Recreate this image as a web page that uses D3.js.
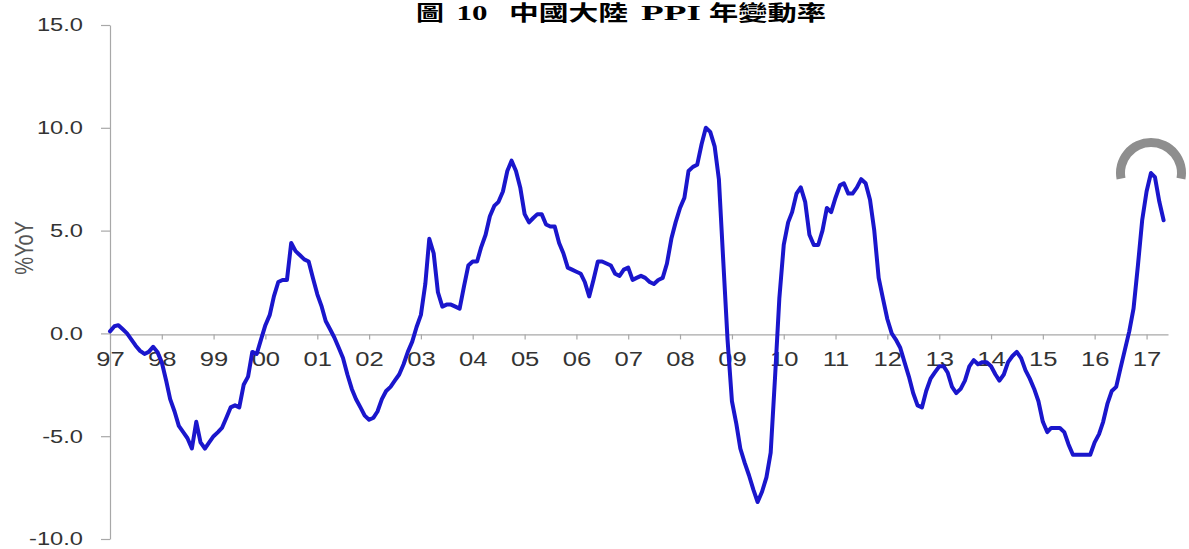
<!DOCTYPE html>
<html>
<head>
<meta charset="utf-8">
<script src="https://cdn.jsdelivr.net/npm/d3@7"></script>
<style>
  html, body { margin: 0; padding: 0; background: #fff; }
  svg { display: block; }
</style>
</head>
<body>
<svg id="chart" width="1189" height="549"></svg>
<script>
// China PPI, year-on-year change (%), monthly from Jan 1997 to May 2017
const startYear = 1997;
const ppi1997 = [0.1, 0.35, 0.4, 0.2, 0.0, -0.3, -0.6, -0.85, -1.0, -0.9, -0.65, -0.9];
const ppi1998 = [-1.4, -2.3, -3.2, -3.8, -4.5, -4.8, -5.1, -5.6, -4.3, -5.3, -5.6, -5.3];
const ppi1999 = [-5.0, -4.8, -4.6, -4.1, -3.6, -3.5, -3.6, -2.5, -2.1, -0.9, -1.0, -0.3];
const ppi2000 = [0.4, 0.9, 1.8, 2.5, 2.6, 2.6, 4.4, 4.0, 3.8, 3.6, 3.5, 2.7];
const ppi2001 = [1.9, 1.3, 0.6, 0.2, -0.2, -0.7, -1.2, -2.0, -2.7, -3.2, -3.6, -4.0];
const ppi2002 = [-4.2, -4.1, -3.8, -3.2, -2.8, -2.6, -2.3, -2.0, -1.5, -0.9, -0.4, 0.3];
const ppi2003 = [0.9, 2.4, 4.6, 3.9, 2.0, 1.3, 1.4, 1.4, 1.3, 1.2, 2.3, 3.3];
const ppi2004 = [3.5, 3.5, 4.2, 4.8, 5.7, 6.2, 6.4, 6.9, 7.9, 8.4, 7.9, 7.1];
const ppi2005 = [5.8, 5.4, 5.6, 5.8, 5.8, 5.3, 5.2, 5.2, 4.4, 3.9, 3.2, 3.1];
const ppi2006 = [3.0, 2.9, 2.5, 1.8, 2.6, 3.5, 3.5, 3.4, 3.3, 2.9, 2.8, 3.1];
const ppi2007 = [3.2, 2.6, 2.7, 2.8, 2.7, 2.5, 2.4, 2.6, 2.7, 3.4, 4.6, 5.4];
const ppi2008 = [6.1, 6.6, 7.9, 8.1, 8.2, 9.2, 10.0, 9.8, 9.1, 7.5, 3.5, -0.3];
const ppi2009 = [-3.3, -4.4, -5.6, -6.3, -6.9, -7.6, -8.2, -7.7, -7.0, -5.8, -2.1, 1.7];
const ppi2010 = [4.3, 5.4, 5.9, 6.8, 7.1, 6.4, 4.8, 4.3, 4.3, 5.0, 6.1, 5.9];
const ppi2011 = [6.6, 7.2, 7.3, 6.8, 6.8, 7.1, 7.5, 7.3, 6.5, 5.0, 2.7, 1.7];
const ppi2012 = [0.7, 0.0, -0.3, -0.7, -1.4, -2.1, -2.9, -3.5, -3.6, -2.8, -2.2, -1.9];
const ppi2013 = [-1.6, -1.6, -1.9, -2.6, -2.9, -2.7, -2.3, -1.6, -1.3, -1.5, -1.4, -1.4];
const ppi2014 = [-1.6, -2.0, -2.3, -2.0, -1.4, -1.1, -0.9, -1.2, -1.8, -2.2, -2.7, -3.3];
const ppi2015 = [-4.3, -4.8, -4.6, -4.6, -4.6, -4.8, -5.4, -5.9, -5.9, -5.9, -5.9, -5.9];
const ppi2016 = [-5.3, -4.9, -4.3, -3.4, -2.8, -2.6, -1.7, -0.8, 0.1, 1.2, 3.3, 5.5];
const ppi2017 = [6.9, 7.8, 7.6, 6.4, 5.5];

const yearLabels = ['97','98','99','00','01','02','03','04','05','06','07','08','09','10','11','12','13','14','15','16','17'];
const yTickValues = [-10, -5, 0, 5, 10, 15];
const titleParts = ['圖', '10', '中國大陸', 'PPI', '年變動率'];
const yAxisLabel = '%YoY';

const ppiSeries = [].concat(ppi1997, ppi1998, ppi1999, ppi2000, ppi2001, ppi2002, ppi2003,
  ppi2004, ppi2005, ppi2006, ppi2007, ppi2008, ppi2009, ppi2010, ppi2011, ppi2012,
  ppi2013, ppi2014, ppi2015, ppi2016, ppi2017);
const points = ppiSeries.map((v, i) => ({ date: new Date(Date.UTC(startYear, i, 1)), value: v }));

const svg = d3.select('#chart');
const stretch = 1.28;           // wide lettering used throughout the chart
const labelFont = "'Liberation Sans', Arial, sans-serif";

const x = d3.scaleUtc()
  .domain([new Date(Date.UTC(1997, 0, 1)), new Date(Date.UTC(2017, 5, 1))])
  .range([110, 1168]);
const y = d3.scaleLinear().domain([-10, 15]).range([539, 25]);

// ---- title ----
const titleSpec = [
  { x: 416, w: 28, size: 21 },
  { x: 456.5, w: 31, size: 22 },
  { x: 509, w: 119, size: 21 },
  { x: 641, w: 60, size: 22 },
  { x: 709, w: 117, size: 21 }
];
svg.append('g').attr('class', 'title')
  .selectAll('text').data(titleParts).join('text')
  .attr('x', (d, i) => titleSpec[i].x)
  .attr('y', 20)
  .attr('textLength', (d, i) => titleSpec[i].w)
  .attr('lengthAdjust', 'spacingAndGlyphs')
  .attr('font-family', "'Liberation Serif', 'Noto Sans CJK TC', serif")
  .attr('font-weight', 'bold')
  .attr('font-size', (d, i) => titleSpec[i].size)
  .attr('fill', '#000')
  .text(d => d);

// ---- y axis ----
const yAxis = svg.append('g')
  .attr('transform', 'translate(110,0)')
  .call(d3.axisLeft(y).tickValues(yTickValues).tickSize(9).tickSizeOuter(0).tickFormat(d3.format('.1f')));
yAxis.select('.domain').attr('stroke', '#a8a8a8').attr('stroke-width', 1.2);
yAxis.selectAll('.tick line').attr('stroke', '#a8a8a8').attr('stroke-width', 1.2);
yAxis.selectAll('.tick text')
  .attr('x', -27 / stretch)
  .attr('transform', `scale(${stretch},1)`)
  .attr('font-family', labelFont)
  .attr('font-size', 18.5)
  .attr('fill', '#333')
  .text(d => d3.format('.1f')(d).replace('−', '-'));

// ---- x axis along the zero line ----
const yearTicks = yearLabels.map((d, i) => new Date(Date.UTC(startYear + i, 0, 1)));
const xAxis = svg.append('g')
  .attr('transform', `translate(0,${y(0) + 1})`)
  .call(d3.axisBottom(x).tickValues(yearTicks).tickSize(5).tickSizeOuter(0).tickPadding(12)
    .tickFormat((d, i) => yearLabels[i]));
xAxis.select('.domain').attr('stroke', '#a8a8a8').attr('stroke-width', 1.2);
xAxis.selectAll('.tick line').attr('stroke', '#a8a8a8').attr('stroke-width', 1.2);
xAxis.selectAll('.tick text')
  .attr('transform', `scale(${stretch},1)`)
  .attr('font-family', labelFont)
  .attr('font-size', 20)
  .attr('fill', '#333');

// ---- axis title ----
svg.append('text')
  .attr('transform', `translate(24,248) scale(${stretch},1) rotate(-90)`)
  .attr('text-anchor', 'middle')
  .attr('dominant-baseline', 'central')
  .attr('font-family', labelFont)
  .attr('font-size', 20)
  .attr('fill', '#555')
  .text(yAxisLabel);

// ---- PPI line ----
const line = d3.line().x(d => x(d.date)).y(d => y(d.value)).curve(d3.curveLinear);
svg.append('path')
  .datum(points)
  .attr('d', line)
  .attr('fill', 'none')
  .attr('stroke', '#1a16cc')
  .attr('stroke-width', 4)
  .attr('stroke-linejoin', 'round')
  .attr('stroke-linecap', 'round');

// ---- turning-point marker: curved grey arc above the latest peak ----
const marker = svg.append('g').attr('transform', 'translate(1151,173)');
marker.append('path')
  .attr('d', d3.arc().innerRadius(26).outerRadius(35).startAngle(-Math.PI * 0.56).endAngle(Math.PI * 0.56)())
  .attr('fill', '#8e8e8e');
</script>
</body>
</html>
